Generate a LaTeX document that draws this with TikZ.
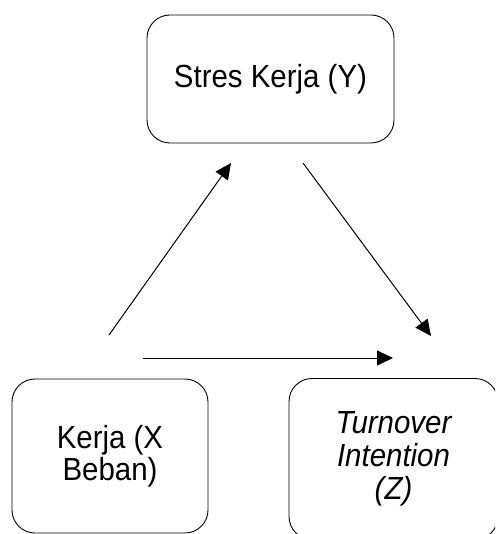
\documentclass[tikz,border=0pt]{standalone}
\usepackage{fontspec}
\setmainfont{Liberation Sans}[FakeStretch=0.92]
\usetikzlibrary{arrows.meta}
\begin{document}
\begin{tikzpicture}[x=1pt,y=-1pt,
  box/.style={draw=black, line width=0.9pt, rounded corners=23pt, inner sep=0pt, align=center, font=\fontsize{32}{33}\selectfont},
  conn/.style={line width=1pt, -{Triangle[length=16pt,width=15pt]}}]
\useasboundingbox (0,0) rectangle (495,534);
\clip (0,0) rectangle (495,534);
\node[box, minimum width=247pt, minimum height=128pt] (y) at (270.5,79) {Stres Kerja (Y)};
\node[box, minimum width=196pt, minimum height=154pt, font=\fontsize{32}{32}\selectfont] (x) at (110,456) {Kerja (X\\Beban)};
\node[box, minimum width=209pt, minimum height=161pt] (z) at (393.5,459) {\itshape Turnover\\\itshape Intention\\\itshape (Z)};
\coordinate (xy0) at (109,335);
\coordinate (xy1) at (231,163);
\coordinate (yz0) at (303,163);
\coordinate (yz1) at (431,336);
\coordinate (xz0) at (143,358);
\coordinate (xz1) at (393,358);
\draw[conn] (xy0) -- (xy1);
\draw[conn] (yz0) -- (yz1);
\draw[conn] (xz0) -- (xz1);
\end{tikzpicture}
\end{document}
